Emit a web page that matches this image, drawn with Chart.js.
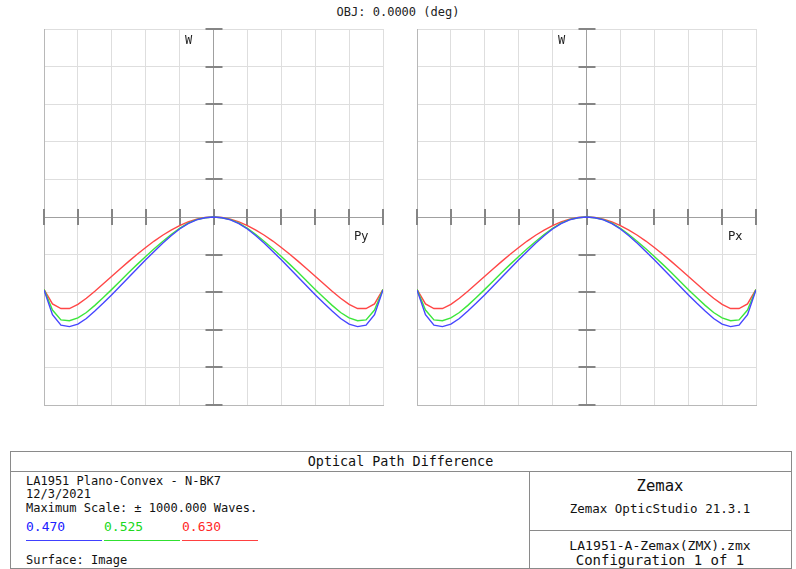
<!DOCTYPE html>
<html>
<head>
<meta charset="utf-8">
<script src="https://cdn.jsdelivr.net/npm/chart.js"></script>
<style>
  html, body { margin: 0; padding: 0; background: #fff; }
  body { width: 796px; height: 569px; position: relative; overflow: hidden;
         font-family: "DejaVu Sans Mono", "Liberation Mono", monospace; color: #111; }
  .abs { position: absolute; white-space: nowrap; }
  canvas { position: absolute; }
  .mono { font-family: "DejaVu Sans Mono", "Liberation Mono", monospace; font-size: 12px; line-height: 14px; }
  .sans { font-family: "DejaVu Sans", "Noto Sans", sans-serif; font-size: 12px; line-height: 14px; }
  .hline { position: absolute; height: 0; border-top: 1px solid #8a8a8a; }
  .vline { position: absolute; width: 0; border-left: 1px solid #8a8a8a; }
</style>
</head>
<body>
<div class="abs mono" style="left:0; width:796px; text-align:center; top:5px; color:#222;">OBJ: 0.0000 (deg)</div>

<canvas id="cy" width="349" height="386" style="left:39px; top:24px;"></canvas>
<canvas id="cx" width="349" height="386" style="left:412px; top:24px;"></canvas>

<div class="abs mono" style="left:185px; top:33px; color:#222;">W</div>
<div class="abs mono" style="left:558px; top:33px; color:#222;">W</div>
<div class="abs sans" style="left:354px; top:229px; color:#222;">Py</div>
<div class="abs sans" style="left:728px; top:229px; color:#222;">Px</div>

<!-- info table -->
<div class="abs" style="left:10px; top:451px; width:780px; height:116px; border:1px solid #8a8a8a;"></div>
<div class="hline" style="left:10px; top:471px; width:781px;"></div>
<div class="vline" style="left:529px; top:471px; height:97px;"></div>
<div class="hline" style="left:529px; top:530px; width:262px;"></div>

<div class="abs mono" style="left:10px; width:781px; text-align:center; top:454px; font-size:13.4px; line-height:16px;">Optical Path Difference</div>
<div class="abs mono" style="left:26px; top:474px;">LA1951 Plano-Convex - N-BK7</div>
<div class="abs mono" style="left:26px; top:487px;">12/3/2021</div>
<div class="abs mono" style="left:26px; top:501px;">Maximum Scale: ± 1000.000 Waves.</div>
<div class="abs mono" style="left:26px; top:520px; color:#2020ff; font-size:13px;">0.470</div>
<div class="abs mono" style="left:104px; top:520px; color:#20d820; font-size:13px;">0.525</div>
<div class="abs mono" style="left:182px; top:520px; color:#ff2828; font-size:13px;">0.630</div>
<div class="abs" style="left:26px; top:540px; width:76px; height:0; border-top:1px solid #4040ff;"></div>
<div class="abs" style="left:104px; top:540px; width:76px; height:0; border-top:1px solid #30e030;"></div>
<div class="abs" style="left:182px; top:540px; width:76px; height:0; border-top:1px solid #ff4040;"></div>
<div class="abs mono" style="left:26px; top:553px;">Surface: Image</div>

<div class="abs mono" style="left:529px; width:262px; text-align:center; top:477px; font-size:15.6px; line-height:19px;">Zemax</div>
<div class="abs mono" style="left:529px; width:262px; text-align:center; top:501px; font-size:12.5px; line-height:16px;">Zemax OpticStudio 21.3.1</div>
<div class="abs mono" style="left:529px; width:262px; text-align:center; top:538px; font-size:13.1px; line-height:16px;">LA1951-A-Zemax(ZMX).zmx</div>
<div class="abs mono" style="left:529px; width:262px; text-align:center; top:552px; font-size:14px; line-height:16px;">Configuration 1 of 1</div>

<script>
// Normalized pupil coordinate (Py or Px)
const pupil = [-1.00,-0.95,-0.90,-0.85,-0.80,-0.75,-0.70,-0.65,-0.60,-0.55,-0.50,-0.45,-0.40,-0.35,-0.30,-0.25,-0.20,-0.15,-0.10,-0.05,
                0.00, 0.05, 0.10, 0.15, 0.20, 0.25, 0.30, 0.35, 0.40, 0.45, 0.50, 0.55, 0.60, 0.65, 0.70, 0.75, 0.80, 0.85, 0.90, 0.95, 1.00];
// Optical path difference (waves) for each wavelength (um)
const wavelengths = ["0.470", "0.525", "0.630"];
const opd470 = [-388,-520,-575,-583,-570,-540,-500,-458,-413,-367,-320,-274,-228,-183,-140,-100,-64,-35,-15,-4,
                0,-4,-15,-35,-64,-100,-140,-183,-228,-274,-320,-367,-413,-458,-500,-540,-570,-583,-575,-520,-388];
const opd525 = [-385,-495,-547,-552,-537,-508,-470,-428,-385,-341,-295,-252,-210,-169,-130,-93,-60,-33,-14,-4,
                0,-4,-14,-33,-60,-93,-130,-169,-210,-252,-295,-341,-385,-428,-470,-508,-537,-552,-547,-495,-385];
const opd630 = [-385,-462,-487,-487,-465,-432,-395,-355,-315,-275,-236,-198,-162,-128,-97,-70,-46,-26,-11,-3,
                0,-3,-11,-26,-46,-70,-97,-128,-162,-198,-236,-275,-315,-355,-395,-432,-465,-487,-487,-462,-385];
// Axis ticks
const xTicks = [-1,-0.8,-0.6,-0.4,-0.2,0,0.2,0.4,0.6,0.8,1];
const yTicks = [-1000,-800,-600,-400,-200,0,200,400,600,800,1000];

const colors = ['rgb(70,70,255)', 'rgb(60,230,60)', 'rgb(255,70,70)'];

function pts(vals) { return pupil.map((p, i) => ({ x: p, y: vals[i] })); }

const crossTicks = {
  id: 'crossTicks',
  beforeDatasetsDraw(chart) {
    const { ctx, scales: { x, y } } = chart;
    const x0 = x.getPixelForValue(0), y0 = y.getPixelForValue(0);
    ctx.save();
    ctx.strokeStyle = '#858585';
    ctx.lineWidth = 2;
    ctx.beginPath();
    xTicks.forEach(v => {
      const px = Math.round(x.getPixelForValue(v));
      ctx.moveTo(px, y0 - 8); ctx.lineTo(px, y0 + 8);
    });
    yTicks.forEach(v => {
      if (v === 0) return;
      const py = Math.round(y.getPixelForValue(v));
      ctx.moveTo(x0 - 8, py); ctx.lineTo(x0 + 9, py);
    });
    ctx.stroke();
    ctx.restore();
  }
};

function makeChart(id) {
  new Chart(document.getElementById(id), {
    type: 'line',
    data: {
      datasets: [
        { label: wavelengths[0], data: pts(opd470), borderColor: colors[0] },
        { label: wavelengths[1], data: pts(opd525), borderColor: colors[1] },
        { label: wavelengths[2], data: pts(opd630), borderColor: colors[2] }
      ]
    },
    options: {
      responsive: false,
      animation: false,
      devicePixelRatio: 1,
      layout: { padding: 5 },
      elements: { point: { radius: 0 }, line: { borderWidth: 1.4, tension: 0 } },
      plugins: { legend: { display: false }, tooltip: { enabled: false } },
      scales: {
        x: {
          type: 'linear', min: -1, max: 1,
          afterBuildTicks: s => { s.ticks = xTicks.map(v => ({ value: v })); },
          ticks: { display: false },
          grid: { drawTicks: false, color: c => (c.tick && c.tick.value === 0) ? '#a0a0a0' : '#dedede', lineWidth: 1 },
          border: { display: true, color: '#b8b8b8', width: 1 }
        },
        y: {
          type: 'linear', min: -1000, max: 1000,
          afterBuildTicks: s => { s.ticks = yTicks.map(v => ({ value: v })); },
          ticks: { display: false },
          grid: { drawTicks: false, color: c => (c.tick && c.tick.value === 0) ? '#a0a0a0' : '#dedede', lineWidth: 1 },
          border: { display: true, color: '#b8b8b8', width: 1 }
        }
      }
    },
    plugins: [crossTicks]
  });
}
makeChart('cy');
makeChart('cx');
</script>
</body>
</html>
